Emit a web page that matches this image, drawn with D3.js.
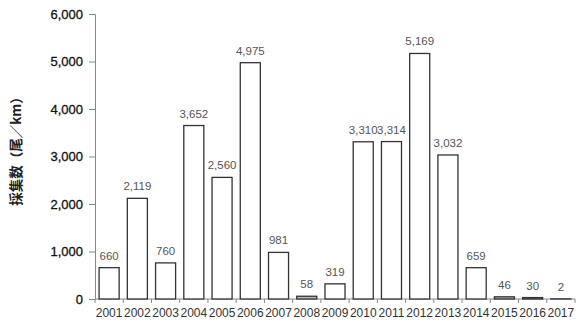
<!DOCTYPE html>
<html><head><meta charset="utf-8">
<script src="https://cdn.jsdelivr.net/npm/d3@7"></script>
<style>body{margin:0;background:#fff;}svg{display:block;}</style>
</head><body>
<svg id="c" width="576" height="322"></svg>
<script>
const years = ["2001","2002","2003","2004","2005","2006","2007","2008","2009","2010","2011","2012","2013","2014","2015","2016","2017"];
const values = [660,2119,760,3652,2560,4975,981,58,319,3310,3314,5169,3032,659,46,30,2];
const yTicks = [0,1000,2000,3000,4000,5000,6000];
const yTitle = "採集数（尾／km）";

const svg = d3.select("#c");
const m = {l:95, r:1, t:14, b:23};
const W = 576, H = 322;
const x = d3.scaleBand().domain(years).range([m.l, W - m.r]).paddingInner(0.29).paddingOuter(0.145);
const y = d3.scaleLinear().domain([0,6000]).range([H - m.b, m.t]);
const fmt = d3.format(",");

// y axis
const ya = svg.append("g").attr("transform", `translate(${m.l},0)`)
  .call(d3.axisLeft(y).tickValues(yTicks).tickFormat(fmt).tickSize(6).tickPadding(6));
ya.select(".domain").attr("stroke","#888");
ya.selectAll(".tick line").attr("stroke","#888");
ya.selectAll("text").attr("font-family","Liberation Sans, Arial, sans-serif").attr("font-size","13px").attr("fill","#111")
  .attr("stroke","#111").attr("stroke-width",0.3);

// x axis with ticks between categories
const xa = svg.append("g").attr("transform", `translate(0,${y(0)})`);
xa.append("line").attr("x1", m.l).attr("x2", W - m.r).attr("stroke","#888");
const step = x.step();
const bounds = years.map((d,i)=> x.range()[0] + i*step).concat([W - m.r]);
xa.selectAll("line.t").data(bounds).enter().append("line")
  .attr("x1", d=>d).attr("x2", d=>d).attr("y1",0).attr("y2",4).attr("stroke","#888");
xa.selectAll("text").data(years).enter().append("text")
  .attr("x", d => x(d) + x.bandwidth()/2).attr("y", 18)
  .attr("text-anchor","middle")
  .attr("font-family","Liberation Sans, Arial, sans-serif").attr("font-size","12px").attr("fill","#333")
  .text(d=>d);

// bars
svg.append("g").selectAll("rect").data(values).enter().append("rect")
  .attr("x", (d,i) => x(years[i]))
  .attr("y", d => y(d))
  .attr("width", x.bandwidth())
  .attr("height", d => y(0) - y(d))
  .attr("fill", (d)=> d < 100 ? "#bbb" : "#fff")
  .attr("stroke","#333").attr("stroke-width",1.3);

// value labels
svg.append("g").selectAll("text").data(values).enter().append("text")
  .attr("x", (d,i) => x(years[i]) + x.bandwidth()/2)
  .attr("y", d => y(d) - 8)
  .attr("text-anchor","middle")
  .attr("font-family","Liberation Sans, Arial, sans-serif").attr("font-size","11.5px").attr("fill","#555")
  .text(d => fmt(d));

// y title
svg.append("text")
  .attr("transform", `translate(21,148) rotate(-90)`)
  .attr("text-anchor","middle")
  .attr("font-family","Noto Sans CJK JP, sans-serif").attr("font-size","13.5px").attr("font-weight","bold").attr("fill","#222")
  .text(yTitle);
</script>
</body></html>
